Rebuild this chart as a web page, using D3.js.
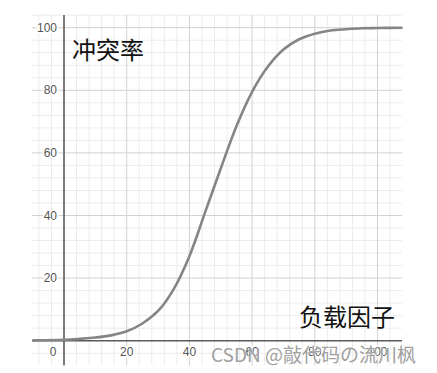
<!DOCTYPE html>
<html>
<head>
<meta charset="utf-8">
<script src="https://cdn.jsdelivr.net/npm/d3@7"></script>
<style>
  body { margin: 0; background: #fff; }
  .minor { stroke: #ececec; stroke-width: 1; }
  .major { stroke: #d2d2d2; stroke-width: 1; }
  .axisLine { stroke: #5a5a5a; stroke-width: 1.6; }
  .tickLabel { font-family: "Liberation Sans", Arial, sans-serif; font-size: 12px; fill: #555;
               stroke: #fff; stroke-width: 3px; paint-order: stroke; }
  .title { font-family: "Noto Sans CJK SC", sans-serif; font-size: 24px; fill: #111; }
  .mark { font-family: "Noto Sans CJK SC", sans-serif; font-size: 19px; fill: #a0a0a0;
          stroke: #fff; stroke-width: 0.6px; paint-order: stroke; }
</style>
</head>
<body>
<script>
// load factor (x) vs collision rate (y)
var loadFactor = [-10, 0, 5, 10, 15, 20, 25, 30, 35, 40, 45, 50, 55, 60, 65, 70, 75, 80, 85, 90, 95, 100, 108];
var collisionRate = [0.1, 0.3, 0.6, 1.0, 1.7, 3.0, 5.5, 9.5, 16.5, 27, 41, 55, 68.5, 79.5, 87.5, 93, 96.3, 98.1, 99.1, 99.5, 99.8, 99.9, 100];

var xTicks = [0, 20, 40, 60, 80, 100];
var yTicks = [20, 40, 60, 80, 100];

var width = 437,
    height = 373;

var svg = d3.select("body")
    .append("svg")
    .attr("width", width)
    .attr("height", height);

var x = d3.scaleLinear().domain([0, 100]).range([64, 377.5]);
var y = d3.scaleLinear().domain([0, 100]).range([340.7, 27.7]);

var xMin = x.invert(32), xMax = x.invert(402);
var yMin = y.invert(365.5), yMax = y.invert(15);

//minor grid every 4 units
var minorX = d3.range(Math.ceil(xMin / 4) * 4, xMax, 4).filter(function(d){ return d % 20 != 0; });
var minorY = d3.range(Math.ceil(yMin / 4) * 4, yMax, 4).filter(function(d){ return d % 20 != 0; });

svg.selectAll(".minorX").data(minorX).enter().append("line")
    .attr("class", "minor")
    .attr("x1", function(d){ return x(d); }).attr("x2", function(d){ return x(d); })
    .attr("y1", y(yMax)).attr("y2", y(yMin));

svg.selectAll(".minorY").data(minorY).enter().append("line")
    .attr("class", "minor")
    .attr("y1", function(d){ return y(d); }).attr("y2", function(d){ return y(d); })
    .attr("x1", x(xMin)).attr("x2", x(xMax));

//major grid
svg.selectAll(".majorX").data(xTicks.filter(function(d){ return d != 0; })).enter().append("line")
    .attr("class", "major")
    .attr("x1", function(d){ return x(d); }).attr("x2", function(d){ return x(d); })
    .attr("y1", y(yMax)).attr("y2", y(yMin));

svg.selectAll(".majorY").data(yTicks).enter().append("line")
    .attr("class", "major")
    .attr("y1", function(d){ return y(d); }).attr("y2", function(d){ return y(d); })
    .attr("x1", x(xMin)).attr("x2", x(xMax));

//axes
svg.append("line").attr("class", "axisLine")
    .attr("x1", x(xMin)).attr("x2", x(xMax))
    .attr("y1", y(0)).attr("y2", y(0));

svg.append("line").attr("class", "axisLine")
    .attr("x1", x(0)).attr("x2", x(0))
    .attr("y1", y(yMax)).attr("y2", y(yMin));

//curve
var line = d3.line()
    .x(function(d, i){ return x(loadFactor[i]); })
    .y(function(d){ return y(d); })
    .curve(d3.curveCatmullRom.alpha(0.5));

svg.append("path")
    .datum(collisionRate)
    .attr("d", line)
    .attr("fill", "none")
    .attr("stroke", "#858585")
    .attr("stroke-width", 2.6);

//tick labels
svg.selectAll(".xLab").data(xTicks).enter().append("text")
    .attr("class", "tickLabel")
    .attr("x", function(d){ return d == 0 ? x(0) - 11 : x(d); })
    .attr("y", y(0) + 15)
    .attr("text-anchor", "middle")
    .text(function(d){ return d; });

svg.selectAll(".yLab").data(yTicks).enter().append("text")
    .attr("class", "tickLabel")
    .attr("x", x(0) - 7)
    .attr("y", function(d){ return y(d) + 4; })
    .attr("text-anchor", "end")
    .text(function(d){ return d; });

//axis titles
svg.append("text").attr("class", "title")
    .attr("x", 72).attr("y", 59)
    .text("冲突率");

svg.append("text").attr("class", "title")
    .attr("x", 299).attr("y", 326)
    .text("负载因子");

//watermark
svg.append("text").attr("class", "mark")
    .attr("x", 211).attr("y", 362)
    .text("CSDN @敲代码の流川枫");
</script>
</body>
</html>
